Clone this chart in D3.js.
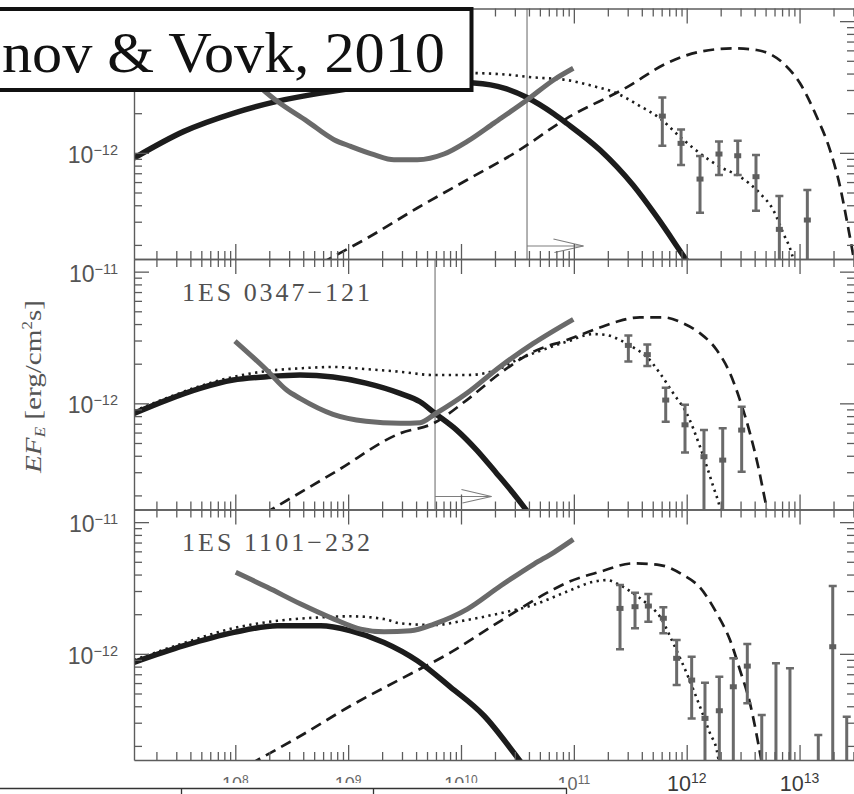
<!DOCTYPE html>
<html>
<head>
<meta charset="utf-8">
<script src="https://cdn.jsdelivr.net/npm/d3@7"></script>
<style>
  body { margin: 0; background: #fff; }
  svg { display: block; }
</style>
</head>
<body>
<svg id="chart" width="854" height="794"></svg>
<script>
// Energies are stored as log10(E / eV), fluxes as log10(E F_E / erg cm^-2 s^-1).
const sourceNames = ["1ES 0229+200", "1ES 0347\u2212121", "1ES 1101\u2212232"];
const xMajorExps = [8, 9, 10, 11, 12, 13];
const xSmallLabelExps = [8, 9, 10, 11];
const xLargeLabelExps = [12, 13];
const yMajorExps = [-12, -11];
const minorMultipliers = [2, 3, 4, 5, 6, 7, 8, 9];

// intrinsic (primary) spectrum — thick black
const intrinsic0 = [[7.102,-12.04],[7.545,-11.837],[7.988,-11.698],[8.369,-11.609],[8.757,-11.546],[9.2,-11.49],[9.64,-11.455],[10.115,-11.47],[10.381,-11.508],[10.585,-11.58],[10.824,-11.705],[10.937,-11.776],[11.232,-11.979],[11.524,-12.245],[11.734,-12.485],[11.985,-12.80],[12.065,-12.9]];
const intrinsic1 = [[7.102,-12.076],[7.392,-11.975],[7.687,-11.886],[7.980,-11.823],[8.278,-11.798],[8.573,-11.785],[8.866,-11.800],[9.158,-11.846],[9.460,-11.924],[9.637,-11.988],[9.770,-12.076],[9.962,-12.203],[10.139,-12.355],[10.316,-12.532],[10.463,-12.683],[10.567,-12.797],[10.66,-12.9]];
const intrinsic2 = [[7.102,-12.065],[7.545,-11.938],[7.988,-11.837],[8.372,-11.787],[8.757,-11.787],[9.023,-11.825],[9.318,-11.913],[9.613,-12.052],[9.909,-12.254],[10.204,-12.470],[10.499,-12.786],[10.6,-12.9]];

// sensitivity curve — thick grey
const sensitivity0 = [[8.0,-11.36],[8.2,-11.49],[8.372,-11.609],[8.638,-11.761],[8.875,-11.90],[9.023,-11.951],[9.229,-12.014],[9.406,-12.052],[9.613,-12.052],[9.849,-12.009],[10.056,-11.913],[10.292,-11.774],[10.588,-11.597],[10.824,-11.445],[10.995,-11.358]];
const sensitivity1 = [[7.997,-11.527],[8.278,-11.747],[8.455,-11.899],[8.573,-11.962],[8.866,-12.083],[9.158,-12.136],[9.460,-12.152],[9.637,-12.147],[9.770,-12.081],[10.051,-11.924],[10.346,-11.722],[10.641,-11.545],[10.995,-11.362]];
const sensitivity2 = [[8.004,-11.381],[8.284,-11.495],[8.580,-11.622],[8.875,-11.736],[9.111,-11.812],[9.318,-11.832],[9.554,-11.825],[9.761,-11.774],[10.056,-11.660],[10.352,-11.483],[10.647,-11.318],[10.824,-11.229],[10.995,-11.131]];

// total model — dotted
const total0 = [[7.102,-11.40],[8.0,-11.37],[9.0,-11.36],[10.115,-11.394],[10.346,-11.402],[10.641,-11.427],[10.937,-11.447],[11.172,-11.493],[11.380,-11.548],[11.586,-11.645],[11.763,-11.738],[11.940,-11.878],[12.118,-12.004],[12.295,-12.106],[12.472,-12.181],[12.649,-12.308],[12.767,-12.434],[12.856,-12.611],[12.930,-12.763],[12.97,-12.9]];
const total1 = [[7.102,-12.058],[7.392,-11.960],[7.687,-11.869],[7.980,-11.800],[8.278,-11.755],[8.573,-11.734],[8.866,-11.724],[9.158,-11.740],[9.460,-11.760],[9.755,-11.785],[10.051,-11.785],[10.316,-11.747],[10.494,-11.671],[10.641,-11.620],[10.937,-11.532],[11.172,-11.474],[11.291,-11.481],[11.409,-11.519],[11.527,-11.575],[11.645,-11.646],[11.763,-11.772],[11.881,-11.924],[12.0,-12.076],[12.118,-12.330],[12.236,-12.633],[12.295,-12.797],[12.33,-12.95]];
const total2 = [[7.102,-12.047],[7.545,-11.918],[7.988,-11.804],[8.372,-11.749],[8.757,-11.723],[9.023,-11.715],[9.318,-11.736],[9.460,-11.768],[9.755,-11.781],[10.051,-11.743],[10.346,-11.692],[10.641,-11.629],[10.937,-11.528],[11.172,-11.453],[11.291,-11.440],[11.409,-11.478],[11.527,-11.541],[11.645,-11.617],[11.763,-11.718],[11.881,-11.920],[12.0,-12.148],[12.118,-12.402],[12.207,-12.604],[12.266,-12.730],[12.3,-12.9]];

// cascade emission — dashed
const cascade0 = [[8.63,-12.9],[8.845,-12.799],[9.170,-12.647],[9.613,-12.419],[10.056,-12.204],[10.499,-11.989],[10.937,-11.738],[11.468,-11.503],[11.823,-11.320],[12.118,-11.232],[12.413,-11.207],[12.620,-11.219],[12.856,-11.320],[13.004,-11.472],[13.152,-11.726],[13.270,-11.979],[13.359,-12.257],[13.418,-12.510],[13.462,-12.713],[13.5,-12.9]];
const cascade1 = [[8.13,-12.9],[8.337,-12.797],[8.883,-12.522],[9.460,-12.228],[9.755,-12.152],[10.051,-11.975],[10.346,-11.772],[10.641,-11.608],[10.937,-11.519],[11.172,-11.443],[11.380,-11.380],[11.586,-11.347],[11.793,-11.347],[11.970,-11.393],[12.118,-11.468],[12.266,-11.595],[12.384,-11.772],[12.472,-11.975],[12.561,-12.228],[12.634,-12.481],[12.694,-12.734],[12.709,-12.797],[12.72,-12.9]];
const cascade2 = [[8.0,-12.9],[8.225,-12.793],[8.580,-12.622],[9.023,-12.394],[9.466,-12.191],[9.909,-11.989],[10.352,-11.749],[10.824,-11.508],[10.937,-11.460],[11.232,-11.377],[11.527,-11.313],[11.763,-11.326],[11.970,-11.402],[12.118,-11.497],[12.266,-11.692],[12.384,-11.895],[12.472,-12.123],[12.561,-12.376],[12.634,-12.680],[12.68,-12.9]];

// measured points: [logE, logF (null if not shown), logF upper, logF lower (null: bar runs off the panel)]
const points0 = [[11.784,-11.721,-11.579,-11.946],[11.950,-11.928,-11.822,-12.093],[12.118,-12.199,-12.024,-12.455],[12.286,-12.009,-11.913,-12.169],[12.452,-12.022,-11.908,-12.169],[12.614,-12.181,-12.017,-12.440],[12.821,-12.581,-12.328,null],[13.069,-12.510,-12.282,null]];
const points1 = [[11.483,-11.560,-11.484,-11.682],[11.651,-11.630,-11.554,-11.717],[11.814,-11.975,-11.882,-12.139],[11.985,-12.163,-12.011,-12.373],[12.153,-12.405,-12.203,null],[12.319,-12.431,-12.190,null],[12.487,-12.203,-12.026,-12.520]];
const points2 = [[11.409,-11.655,-11.478,-11.966],[11.542,-11.642,-11.536,-11.806],[11.660,-11.637,-11.546,-11.756],[11.793,-11.730,-11.647,-11.844],[11.911,-12.034,-11.895,-12.237],[12.044,-12.199,-12.022,-12.490],[12.162,-12.490,-12.219,null],[12.289,-12.432,-12.174,null],[12.413,-12.250,-12.034,null],[12.537,-12.093,-11.926,-12.376],[12.665,null,-12.465,null],[12.791,null,-12.072,null],[12.915,null,-12.110,null],[13.166,null,-12.617,null],[13.294,-11.946,-11.485,null],[13.418,null,-12.478,null]];

// energy where the intrinsic spectrum meets the sensitivity curve (null: not marked)
const crossingExp = [10.585, 9.770, null];

const intrinsicSets = [intrinsic0, intrinsic1, intrinsic2];
const sensitivitySets = [sensitivity0, sensitivity1, sensitivity2];
const totalSets = [total0, total1, total2];
const cascadeSets = [cascade0, cascade1, cascade2];
const pointSets = [points0, points1, points2];

// ---------------------------------------------------------------- layout
const P = v => Math.pow(10, v);
const X0 = 134, X1 = 855, TOP = 8.5, PH = 250.5;
const x = d3.scaleLog().domain([P(7.1024), P(13.4913)]).range([X0, X1]);
const yDomain = [P(-12.806), P(-10.904)];

// the citation box covers the upper-left corner of the first panel
const BOX = { right: 471.5, bottom: 90 };

const INK = "#1c1c1c", GREY = "#6a6a6a", AXIS = "#5c5c5c";
const svg = d3.select("#chart");

const xMinor = [];
for (let k = 7; k <= 13; k++) minorMultipliers.forEach(m => {
  const v = m * P(k);
  if (v > x.domain()[0] && v < x.domain()[1]) xMinor.push(v);
});
const yMinor = [];
for (let k = -13; k <= -11; k++) minorMultipliers.forEach(m => {
  const v = m * P(k);
  if (v > yDomain[0] && v < yDomain[1]) yMinor.push(v);
});

function supLabel(sel, base, exp, size, supSize, rise) {
  sel.append("tspan").text(base).attr("font-size", size);
  sel.append("tspan").text(exp).attr("font-size", supSize).attr("dy", -rise);
}

sourceNames.forEach((name, i) => {
  const top = TOP + i * PH, bot = top + PH;
  const y = d3.scaleLog().domain(yDomain).range([bot, top]);
  const g = svg.append("g");

  const clipId = "clip" + i;
  g.append("clipPath").attr("id", clipId)
    .append("rect").attr("x", X0).attr("y", top).attr("width", X1 - X0).attr("height", PH);

  const plot = g.append("g").attr("clip-path", `url(#${clipId})`);
  const line = d3.line()
    .x(d => x(P(d[0])))
    .y(d => y(P(d[1])))
    .curve(d3.curveMonotoneX);

  // crossing marker: thin vertical line with an arrow pointing to higher energies
  if (crossingExp[i] !== null) {
    const ex = x(P(crossingExp[i]));
    const tip = x(P(crossingExp[i] + 0.5));
    const ay = bot - 13;
    plot.append("line").attr("x1", ex).attr("x2", ex).attr("y1", top).attr("y2", bot)
      .attr("stroke", "#7e7e7e").attr("stroke-width", 1.2);
    plot.append("line").attr("x1", ex).attr("x2", tip).attr("y1", ay).attr("y2", ay)
      .attr("stroke", "#7e7e7e").attr("stroke-width", 1.2);
    plot.append("path")
      .attr("d", `M${tip - 30},${ay - 7}L${tip},${ay}L${tip - 29},${ay + 6.5}`)
      .attr("fill", "none").attr("stroke", "#7e7e7e").attr("stroke-width", 1.2);
  }

  plot.append("path").attr("d", line(cascadeSets[i]))
    .attr("fill", "none").attr("stroke", INK).attr("stroke-width", 2.7)
    .attr("stroke-dasharray", "11,6.5");
  plot.append("path").attr("d", line(totalSets[i]))
    .attr("fill", "none").attr("stroke", INK).attr("stroke-width", 2.6)
    .attr("stroke-dasharray", "2.3,4.4");
  plot.append("path").attr("d", line(intrinsicSets[i]))
    .attr("fill", "none").attr("stroke", INK).attr("stroke-width", 5.5);
  plot.append("path").attr("d", line(sensitivitySets[i]))
    .attr("fill", "none").attr("stroke", GREY).attr("stroke-width", 5);

  // error bars
  const bars = plot.selectAll("g.pt").data(pointSets[i]).join("g").attr("class", "pt");
  bars.each(function(d) {
    const s = d3.select(this);
    const px = x(P(d[0]));
    const yHi = y(P(d[2]));
    const yLo = d[3] === null ? bot + 5 : y(P(d[3]));
    s.append("line").attr("x1", px).attr("x2", px).attr("y1", yHi).attr("y2", yLo)
      .attr("stroke", GREY).attr("stroke-width", 3);
    s.append("line").attr("x1", px - 4).attr("x2", px + 4).attr("y1", yHi).attr("y2", yHi)
      .attr("stroke", GREY).attr("stroke-width", 2.5);
    if (d[3] !== null) {
      s.append("line").attr("x1", px - 4).attr("x2", px + 4).attr("y1", yLo).attr("y2", yLo)
        .attr("stroke", GREY).attr("stroke-width", 2.5);
    }
    if (d[1] !== null) {
      const yc = y(P(d[1]));
      s.append("rect").attr("x", px - 3.5).attr("y", yc - 2.5).attr("width", 7).attr("height", 5)
        .attr("fill", "#5e5e5e");
    }
  });

  // axes on all four sides, ticks pointing inward
  const axes = g.append("g").attr("class", "axes");
  const styleAxis = sel => {
    sel.selectAll("path.domain").attr("stroke", AXIS).attr("stroke-width", 1.4);
    sel.selectAll(".tick line").attr("stroke", AXIS).attr("stroke-width", 1.3);
    sel.selectAll(".tick text").remove();
  };
  const noDomain = sel => sel.select("path.domain").remove();

  axes.append("g").attr("transform", `translate(0,${bot})`)
    .call(d3.axisTop(x).tickValues(xMajorExps.map(P)).tickSize(15).tickSizeOuter(0).tickFormat(""))
    .call(styleAxis);
  axes.append("g").attr("transform", `translate(0,${bot})`)
    .call(d3.axisTop(x).tickValues(xMinor).tickSize(8).tickSizeOuter(0).tickFormat(""))
    .call(styleAxis).call(noDomain);
  axes.append("g").attr("transform", `translate(0,${top})`)
    .call(d3.axisBottom(x).tickValues(xMajorExps.map(P)).tickSize(15).tickSizeOuter(0).tickFormat(""))
    .call(styleAxis);
  axes.append("g").attr("transform", `translate(0,${top})`)
    .call(d3.axisBottom(x).tickValues(xMinor).tickSize(8).tickSizeOuter(0).tickFormat(""))
    .call(styleAxis).call(noDomain);
  axes.append("g").attr("transform", `translate(${X0},0)`)
    .call(d3.axisRight(y).tickValues(yMajorExps.map(P)).tickSize(15).tickSizeOuter(0).tickFormat(""))
    .call(styleAxis);
  axes.append("g").attr("transform", `translate(${X0},0)`)
    .call(d3.axisRight(y).tickValues(yMinor).tickSize(8).tickSizeOuter(0).tickFormat(""))
    .call(styleAxis).call(noDomain);
  axes.append("g").attr("transform", `translate(${X1},0)`)
    .call(d3.axisLeft(y).tickValues(yMajorExps.map(P)).tickSize(15).tickSizeOuter(0).tickFormat(""))
    .call(styleAxis);
  axes.append("g").attr("transform", `translate(${X1},0)`)
    .call(d3.axisLeft(y).tickValues(yMinor).tickSize(8).tickSizeOuter(0).tickFormat(""))
    .call(styleAxis).call(noDomain);

  // y tick labels (skipping any that sit under the citation box)
  yMajorExps.forEach(e => {
    const ty = y(P(e));
    if (ty < BOX.bottom) return;
    const t = g.append("text").attr("x", 118).attr("y", ty + 10)
      .attr("text-anchor", "end").attr("fill", "#555")
      .attr("font-family", "'Liberation Sans', Arial, sans-serif");
    supLabel(t, "10", "\u2212" + Math.abs(e), 23, 14.5, 8);
  });

  // source name (the first panel's name lies under the citation box)
  if (top + 41.5 > BOX.bottom) {
    g.append("text").attr("x", 182).attr("y", top + 41.5)
      .attr("font-family", "'Liberation Serif', 'Times New Roman', serif")
      .attr("font-size", 26).attr("fill", "#505050")
      .attr("textLength", 188).attr("lengthAdjust", "spacing")
      .text(name);
  }
});

// energy labels below the last panel
const labelG = svg.append("g").attr("font-family", "'Liberation Sans', Arial, sans-serif");
xSmallLabelExps.forEach(e => {
  const t = labelG.append("text").attr("x", x(P(e))).attr("y", 790)
    .attr("text-anchor", "middle").attr("fill", "#666");
  supLabel(t, "10", String(e), 18, 12, 6);
});
xLargeLabelExps.forEach(e => {
  const t = labelG.append("text").attr("x", x(P(e))).attr("y", 790.5)
    .attr("text-anchor", "middle").attr("fill", "#3a3a3a");
  supLabel(t, "10", String(e), 21.5, 14, 8);
});

// table strip along the bottom-left edge
const strip = svg.append("g");
strip.append("rect").attr("x", 0).attr("y", 783).attr("width", 567).attr("height", 11).attr("fill", "#fff");
strip.append("line").attr("x1", 0).attr("x2", 567).attr("y1", 788.5).attr("y2", 788.5)
  .attr("stroke", "#333").attr("stroke-width", 1.3);
[181.5, 373.5, 566.5].forEach(cx => strip.append("line")
  .attr("x1", cx).attr("x2", cx).attr("y1", 788.5).attr("y2", 794)
  .attr("stroke", "#333").attr("stroke-width", 1.3));

// y-axis title
const yt = svg.append("text")
  .attr("transform", "translate(41,386.5) rotate(-90)")
  .attr("text-anchor", "middle").attr("fill", "#555")
  .attr("font-family", "'Liberation Serif', 'Times New Roman', serif")
  .attr("font-size", 24).attr("textLength", 173).attr("lengthAdjust", "spacingAndGlyphs");
yt.append("tspan").attr("font-style", "italic").text("EF");
yt.append("tspan").attr("font-style", "italic").attr("font-size", 14).attr("dy", 4).text("E");
yt.append("tspan").attr("dy", -4).text(" [erg/cm");
yt.append("tspan").attr("font-size", 14).attr("dy", -9).text("2");
yt.append("tspan").attr("dy", 9).text("s]");

// citation box
const box = svg.append("g");
box.append("rect").attr("x", -10).attr("y", 9).attr("width", BOX.right + 10).attr("height", BOX.bottom - 9)
  .attr("fill", "#fff").attr("stroke", "#111").attr("stroke-width", 4);
box.append("text").attr("x", -118.6).attr("y", 72)
  .attr("font-family", "'Liberation Serif', 'Times New Roman', serif")
  .attr("font-size", 58).attr("fill", "#111")
  .attr("textLength", 563.6).attr("lengthAdjust", "spacingAndGlyphs")
  .text("Neronov & Vovk, 2010");
</script>
</body>
</html>
